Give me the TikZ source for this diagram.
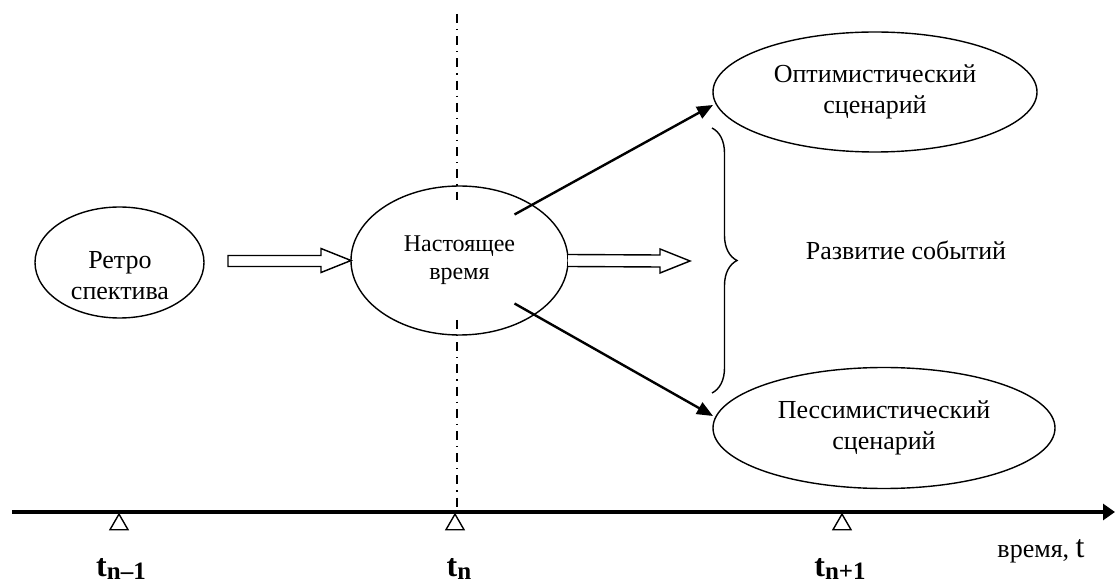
\documentclass[tikz,border=0pt]{standalone}
\usepackage{fontspec}
\setmainfont{Liberation Serif}
\usetikzlibrary{shapes.geometric,arrows.meta,decorations.pathreplacing,calc}
\begin{document}
\begin{tikzpicture}[x=0.5pt,y=-0.5pt,
  ell/.style={draw, ellipse, line width=0.7pt, inner sep=0pt, outer sep=0pt, align=center,
    font=\fontsize{13}{15.5}\selectfont},
  lbl/.style={inner sep=0pt, align=center, font=\fontsize{13}{15.5}\selectfont},
  arr/.style={line width=1.2pt, -{Triangle[length=8pt,width=6.5pt]}},
  hollow/.style={draw, line width=0.7pt, fill=white, line join=miter},
  axisline/.style={line width=2pt, -{Triangle[length=6pt,width=8pt]}},
  tickmark/.style={draw, line width=0.7pt, regular polygon, regular polygon sides=3,
    minimum size=10.4pt, inner sep=0pt, outer sep=0pt},
  dashdotline/.style={line width=0.6pt, dash pattern=on 4.5pt off 3pt on 0.6pt off 3pt},
  tlabel/.style={inner sep=0pt, anchor=base, font=\fontsize{16}{16}\selectfont\bfseries},
  curly/.style={line width=0.7pt, decorate, decoration={brace, amplitude=12.5pt}}
]
\useasboundingbox (0,0) rectangle (1115,588);

% ellipses
\node[ell, minimum width=84.5pt, minimum height=55.5pt] (retro) at (119.5,262.5) {};
\node[lbl] (retrotxt) at (120,276) {Ретро\\спектива};
\node[ell, minimum width=108.5pt, minimum height=74.5pt, font=\fontsize{12}{14}\selectfont] (now) at (459.5,260.5) {Настоящее\\время};
\node[ell, minimum width=162pt, minimum height=60pt] (opt) at (875,92) {Оптимистический\\сценарий};
\node[ell, minimum width=171pt, minimum height=60.5pt] (pess) at (884,428) {Пессимистический\\сценарий};

% dash-dot vertical line
\coordinate (vtop) at (457,14);
\coordinate (vaxis) at (457,512);
\draw[dashdotline] (vtop) -- ($(now.north)+(-2.5,14)$);
\draw[dashdotline] ($(now.south)+(-2.5,-15)$) -- (vaxis);

% hollow arrows
\coordinate (h1) at (228,261);
\draw[hollow] ($(h1)+(0,-5.5)$) -- ($(now.west)+(-30,-5)$) -- ($(now.west)+(-30,-12)$)
  -- (now.west) -- ($(now.west)+(-30,12)$) -- ($(now.west)+(-30,6)$) -- ($(h1)+(0,5.5)$) -- cycle;
\coordinate (h2) at (690,261);
\draw[hollow] ($(now.east)+(0,-6)$) -- ($(h2)+(-30,-6)$) -- ($(h2)+(-30,-12)$)
  -- (h2) -- ($(h2)+(-30,12)$) -- ($(h2)+(-30,6)$) -- ($(now.east)+(0,6)$);

% scenario arrows
\draw[arr] ($(now.center)+(55,-46)$) -- ($(opt.west)+(0,13)$);
\draw[arr] ($(now.center)+(55,43)$) -- ($(pess.west)+(0,-12)$);

% brace and label
\coordinate (b1) at (712,128);
\coordinate (b2) at (712,393);
\draw[curly] (b1) -- (b2);
\node[lbl, anchor=base] (dev) at (906,260) {Развитие событий};

% time axis
\coordinate (ax0) at (12,512);
\coordinate (ax1) at (1115,512);
\draw[axisline] (ax0) -- (ax1);
\node[tickmark] (k1) at (119,524.5) {};
\node[tickmark] (k2) at (455,524.5) {};
\node[tickmark] (k3) at (842,524.5) {};
\node[tlabel] (l1) at (121,576) {t\raisebox{-1.5pt}{\fontsize{12.5}{12.5}\selectfont\bfseries n–1}};
\node[tlabel] (l2) at (459,576) {t\raisebox{-1.5pt}{\fontsize{12.5}{12.5}\selectfont\bfseries n}};
\node[tlabel] (l3) at (840,576) {t\raisebox{-1.5pt}{\fontsize{12.5}{12.5}\selectfont\bfseries n+1}};
\node[inner sep=0pt, anchor=base east] (tname) at (1085,557) {\fontsize{13}{15}\selectfont время, \fontsize{16}{16}\selectfont t};
\end{tikzpicture}
\end{document}
